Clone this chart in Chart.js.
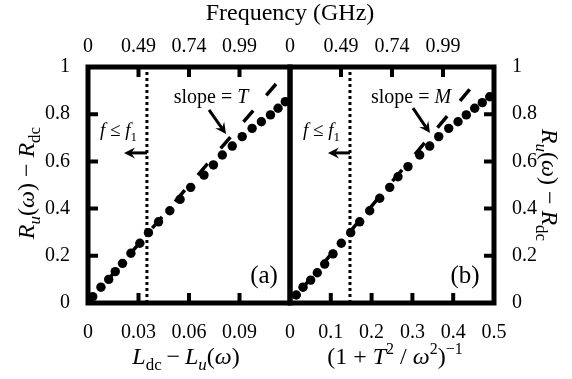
<!DOCTYPE html>
<html>
<head>
<meta charset="utf-8">
<script src="https://cdn.jsdelivr.net/npm/chart.js@4.4.1/dist/chart.umd.min.js"></script>
<style>
  html, body { margin: 0; padding: 0; background: #fff; }
  #wrap { position: relative; width: 572px; height: 379px; }
  #wrap canvas { position: absolute; left: 0; top: 0; }
</style>
</head>
<body>
<div id="wrap">
  <canvas id="left" width="572" height="379"></canvas>
  <canvas id="right" width="572" height="379"></canvas>
</div>
<script>
// measured points, panel (a): R vs Ldc - Lu
const leftX = [0.0028, 0.0077, 0.0123, 0.0162, 0.0205, 0.0255, 0.0308, 0.0359, 0.0419, 0.0486, 0.0547,
  0.061, 0.0689, 0.0745, 0.0798, 0.0857, 0.0916, 0.0975, 0.103, 0.1084, 0.1129, 0.1172];
const leftY = [0.027, 0.067, 0.100, 0.133, 0.168, 0.211, 0.253, 0.298, 0.344, 0.391, 0.439,
  0.490, 0.542, 0.585, 0.627, 0.665, 0.705, 0.740, 0.768, 0.797, 0.825, 0.853];

// panel (b): R vs (1 + T^2/w^2)^-1
const rightX = [0.0154, 0.0319, 0.0507, 0.0669, 0.085, 0.1054, 0.1257, 0.1488, 0.1708, 0.1953, 0.2199,
  0.2444, 0.2647, 0.2892, 0.3179, 0.3424, 0.3645, 0.389, 0.4118, 0.4321, 0.4527, 0.4713, 0.4895];
const rightY = [0.034, 0.067, 0.097, 0.128, 0.165, 0.208, 0.253, 0.298, 0.344, 0.391, 0.444,
  0.490, 0.535, 0.578, 0.627, 0.665, 0.705, 0.740, 0.768, 0.797, 0.825, 0.849, 0.874];

// dashed slope lines (top end first, then origin)
const leftSlopeX = [0.1117, 0];
const leftSlopeY = [0.928, 0];
const rightSlopeX = [0.4404, 0];
const rightSlopeY = [0.905, 0];

// f1 marker positions
const leftF1 = 0.035;
const rightF1 = 0.147;

const leftXTicks = [0, 0.03, 0.06, 0.09];
const rightXTicks = [0, 0.1, 0.2, 0.3, 0.4, 0.5];
const yTicks = [0, 0.2, 0.4, 0.6, 0.8, 1];
const freqTicks = ['0', '0.49', '0.74', '0.99'];

const SERIF = "'Liberation Serif', 'Times New Roman', serif";
Chart.defaults.font.family = SERIF;
Chart.defaults.font.size = 20;
Chart.defaults.color = '#000';

const SUB = { s: 0.7, dy: 0.25 };
const SUP = { s: 0.65, dy: -0.42 };

function fontFor(p, size) {
  return `${p.i ? 'italic ' : ''}${Math.round(size * (p.s || 1))}px ${SERIF}`;
}

// draws mixed italic / sub / sup text centred on x, baseline y
function drawRich(ctx, parts, x, y, size, rotation) {
  ctx.save();
  ctx.translate(x, y);
  ctx.rotate(rotation || 0);
  ctx.textAlign = 'left';
  ctx.textBaseline = 'alphabetic';
  ctx.fillStyle = '#000';
  let total = 0;
  parts.forEach((p) => {
    ctx.font = fontFor(p, size);
    p.w = ctx.measureText(p.t).width;
    total += p.w;
  });
  let cx = -total / 2;
  parts.forEach((p) => {
    ctx.font = fontFor(p, size);
    ctx.fillText(p.t, cx, (p.dy || 0) * size);
    cx += p.w;
  });
  ctx.restore();
}

function arrow(ctx, x1, y1, x2, y2) {
  const a = Math.atan2(y2 - y1, x2 - x1);
  const len = 11;
  const half = 5.5;
  ctx.save();
  ctx.strokeStyle = '#000';
  ctx.fillStyle = '#000';
  ctx.lineWidth = 3;
  ctx.beginPath();
  ctx.moveTo(x1, y1);
  ctx.lineTo(x2 - Math.cos(a) * len * 0.6, y2 - Math.sin(a) * len * 0.6);
  ctx.stroke();
  ctx.translate(x2, y2);
  ctx.rotate(a);
  ctx.beginPath();
  ctx.moveTo(0, 0);
  ctx.lineTo(-len, -half);
  ctx.lineTo(-len * 0.65, 0);
  ctx.lineTo(-len, half);
  ctx.closePath();
  ctx.fill();
  ctx.restore();
}

const yTitle = [{ t: 'R', i: 1 }, { t: 'u', i: 1, ...SUB }, { t: '(' }, { t: 'ω', i: 1 },
  { t: ') − ' }, { t: 'R', i: 1 }, { t: 'dc', ...SUB }];

const panels = {
  left: {
    tag: '(a)', tagAt: [0.1046, 0.085],
    slope: [{ t: 'slope = ' }, { t: 'T', i: 1 }], slopeAt: [0.0731, 0.847],
    slopeArrow: [0.0719, 0.818, 0.082, 0.716],
    fAt: [0.0181, 0.708], fArrow: [leftF1, 0.636, 0.0214, 0.636],
    xTitle: [{ t: 'L', i: 1 }, { t: 'dc', ...SUB }, { t: '\u2009−\u2009' }, { t: 'L', i: 1 },
      { t: 'u', i: 1, ...SUB }, { t: '(' }, { t: 'ω', i: 1 }, { t: ')' }],
    xTitleAt: [186, 364],
    yTitleAt: [34, 183, -Math.PI / 2],
  },
  right: {
    tag: '(b)', tagAt: [0.429, 0.085],
    slope: [{ t: 'slope = ' }, { t: 'M', i: 1 }], slopeAt: [0.2966, 0.847],
    slopeArrow: [0.3015, 0.826, 0.343, 0.72],
    fAt: [0.077, 0.708], fArrow: [rightF1, 0.636, 0.093, 0.636],
    xTitle: [{ t: '(1 + ' }, { t: 'T', i: 1 }, { t: '2', ...SUP }, { t: ' / ' }, { t: 'ω', i: 1 },
      { t: '2', ...SUP }, { t: ')' }, { t: '−1', ...SUP }],
    xTitleAt: [395, 364],
    yTitleAt: [542, 185, Math.PI / 2],
  },
};

const framePlugin = {
  id: 'frame',
  afterDraw(chart, args, opts) {
    const { ctx, chartArea: { left, right, top, bottom } } = chart;
    const { x, top: fq, y } = chart.scales;
    const p = panels[opts.panel];
    ctx.save();
    ctx.strokeStyle = '#000';
    ctx.lineWidth = 4;
    ctx.lineCap = 'butt';
    // inward tick marks
    ctx.beginPath();
    x.ticks.forEach((t) => {
      if (t.value <= x.min || t.value >= x.max) return;
      const px = x.getPixelForValue(t.value);
      ctx.moveTo(px, bottom); ctx.lineTo(px, bottom - 10);
    });
    fq.ticks.forEach((t) => {
      if (t.value <= fq.min || t.value >= fq.max) return;
      const px = fq.getPixelForValue(t.value);
      ctx.moveTo(px, top); ctx.lineTo(px, top + 10);
    });
    y.ticks.forEach((t) => {
      if (t.value <= y.min || t.value >= y.max) return;
      const py = y.getPixelForValue(t.value);
      if (y.position === 'left') { ctx.moveTo(left, py); ctx.lineTo(left + 10, py); } else { ctx.moveTo(right, py); ctx.lineTo(right - 10, py); }
    });
    ctx.stroke();
    ctx.lineWidth = 5;
    ctx.lineJoin = 'miter';
    ctx.strokeRect(left, top, right - left, bottom - top);
    ctx.restore();

    const px = (v) => x.getPixelForValue(v);
    const py = (v) => y.getPixelForValue(v);
    drawRich(ctx, p.slope, px(p.slopeAt[0]), py(p.slopeAt[1]), 20);
    arrow(ctx, px(p.slopeArrow[0]), py(p.slopeArrow[1]), px(p.slopeArrow[2]), py(p.slopeArrow[3]));
    drawRich(ctx, [{ t: 'f', i: 1 }, { t: ' ≤ ' }, { t: 'f', i: 1 }, { t: '1', ...SUB }],
      px(p.fAt[0]), py(p.fAt[1]), 19);
    arrow(ctx, px(p.fArrow[0]), py(p.fArrow[1]), px(p.fArrow[2]), py(p.fArrow[3]));
    drawRich(ctx, [{ t: p.tag }], px(p.tagAt[0]), py(p.tagAt[1]), 25);
    drawRich(ctx, p.xTitle, p.xTitleAt[0], p.xTitleAt[1], 24);
    drawRich(ctx, yTitle, p.yTitleAt[0], p.yTitleAt[1], 24, p.yTitleAt[2]);
    if (opts.panel === 'left') {
      drawRich(ctx, [{ t: 'Frequency (GHz)' }], 290, 20, 24);
    }
  },
};

function buildPanel(id, xs, ys, slopeX, slopeY, f1, xTicks, xMax) {
  const isLeft = id === 'left';
  return new Chart(document.getElementById(id), {
    type: 'scatter',
    data: {
      datasets: [{
        data: xs.map((v, i) => ({ x: v, y: ys[i] })),
        pointRadius: 4.7,
        pointBackgroundColor: '#000',
        pointBorderWidth: 0,
        order: 1,
      }, {
        type: 'line',
        data: slopeX.map((v, i) => ({ x: v, y: slopeY[i] })),
        borderColor: '#000',
        borderWidth: 3.5,
        borderDash: [15, 20],
        pointRadius: 0,
        order: 2,
      }, {
        type: 'line',
        data: [{ x: f1, y: 0 }, { x: f1, y: 1 }],
        borderColor: '#000',
        borderWidth: 3,
        borderDash: [3, 3],
        pointRadius: 0,
        order: 3,
      }],
    },
    options: {
      responsive: false,
      animation: false,
      devicePixelRatio: 1,
      layout: { padding: isLeft ? { right: 282 } : { left: 290 } },
      plugins: {
        legend: { display: false },
        tooltip: { enabled: false },
        frame: { panel: id },
      },
      scales: {
        x: {
          type: 'linear',
          position: 'bottom',
          min: 0,
          max: xMax,
          grid: { display: false },
          border: { display: false },
          ticks: { padding: 10, autoSkip: false, maxRotation: 0, callback: (v) => String(v) },
          afterBuildTicks: (s) => { s.ticks = xTicks.map((v) => ({ value: v })); },
          afterFit: (s) => { s.height = 76; },
        },
        top: {
          type: 'linear',
          position: 'top',
          min: 0,
          max: 4,
          grid: { display: false },
          border: { display: false },
          ticks: { padding: 0, autoSkip: false, maxRotation: 0, callback: (v, i) => freqTicks[i] },
          afterBuildTicks: (s) => { s.ticks = freqTicks.map((t, i) => ({ value: i })); },
          afterFit: (s) => { s.height = 67; },
        },
        y: {
          type: 'linear',
          position: isLeft ? 'left' : 'right',
          min: 0,
          max: 1,
          grid: { display: false },
          border: { display: false },
          ticks: { padding: 10, autoSkip: false, callback: (v) => String(v) },
          afterBuildTicks: (s) => { s.ticks = yTicks.map((v) => ({ value: v })); },
          afterFit: (s) => { s.width = isLeft ? 88 : 78; },
        },
      },
    },
    plugins: [framePlugin],
  });
}

buildPanel('left', leftX, leftY, leftSlopeX, leftSlopeY, leftF1, leftXTicks, 0.12);
buildPanel('right', rightX, rightY, rightSlopeX, rightSlopeY, rightF1, rightXTicks, 0.5);
</script>
</body>
</html>
